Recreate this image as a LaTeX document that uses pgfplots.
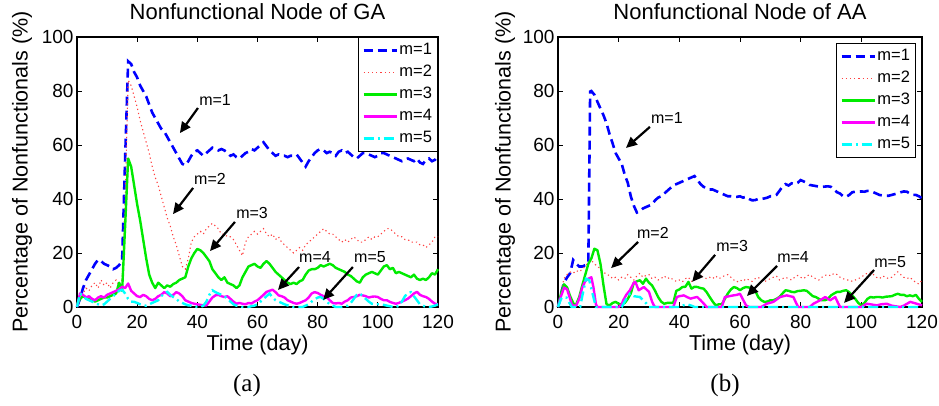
\documentclass[border=0pt]{standalone}
\usepackage{fontspec}
\setmainfont{Liberation Sans}
\newfontfamily\capfont{Liberation Serif}
\usepackage{pgfplots}
\pgfplotsset{compat=1.18}
\usetikzlibrary{arrows.meta}
\definecolor{mgreen}{rgb}{0,0.92,0}
\definecolor{mred}{rgb}{1,0.25,0.25}
\definecolor{mblue}{rgb}{0,0,1}
\definecolor{mmag}{rgb}{1,0,1}
\definecolor{mcyan}{rgb}{0,1,1}
\tikzset{
  arr/.style={black, line width=2.2pt, -{Triangle[length=11pt,width=10pt]}},
  ann/.style={font=\fontsize{16}{16}\selectfont, inner sep=0pt},
}
\pgfplotsset{
  myaxis/.style={
    scale only axis, width=#1, height=270pt,
    xmin=0, xmax=120, ymin=0, ymax=100,
    xtick={0,20,...,120}, ytick={0,20,...,100},
    tick align=inside, major tick length=5pt,
    every tick/.style={black, line width=0.9pt},
    axis line style={line width=1.1pt},
    /pgf/number format/assume math mode=true,
    tick label style={font=\fontsize{19}{19}\selectfont},
    xticklabel style={anchor=base, yshift=-22pt, inner sep=0pt},
    label style={font=\fontsize{21.5}{21.5}\selectfont},
    xlabel style={at={(axis description cs:0.5,0)}, anchor=base, yshift=-44pt, inner sep=0pt},
    title style={at={(axis description cs:0.5,1)}, anchor=base, yshift=11pt, font=\fontsize{22}{22}\selectfont},
    xlabel={Time (day)},
    ylabel={Percentage of Nonfunctionals (\%)},
    clip=false,
    legend cell align=left,
    legend image code/.code={\draw[##1] (0pt,0pt) -- (33pt,0pt);},
    legend style={font=\fontsize{16.5}{16.5}\selectfont, draw=black, line width=1pt,
      nodes={inner sep=1.5pt, text height=12pt, text depth=3pt}, row sep=4pt,
      inner xsep=4pt, inner ysep=4pt},
  },
  s1/.style={mblue, line width=2.6pt, dash pattern=on 9pt off 5pt},
  s2/.style={mred, line width=1.1pt, dash pattern=on 1.2pt off 3pt},
  s3/.style={mgreen, line width=2.4pt, line join=round},
  s4/.style={mmag, line width=2.4pt, line join=round},
  s5/.style={mcyan, line width=2.4pt, dash pattern=on 10pt off 4pt on 2pt off 4pt},
}
\begin{document}
\begin{tikzpicture}
\useasboundingbox (0,0) rectangle (939pt,406pt);
% ---------------- (a) GA ----------------
\begin{axis}[myaxis=361pt, at={(77pt,99pt)}, anchor=south west,
  title={Nonfunctional Node of GA},
  ylabel style={at={(axis description cs:-0.152,0.5)}, anchor=center},
  legend style={at={(axis description cs:1,1)}, anchor=north east}]
\addplot[s1] coordinates {(0,0) (1,3) (2,7) (3,10) (4,12) (5,14) (6,16) (7,17.5) (8,17) (9,16) (10,15.5) (11,15) (12,14) (13,14.5) (14,15.5) (15,17) (16,55) (17,91) (18,90) (19,87) (20,85) (21,82) (22,80) (23,78) (24,75) (25,72) (26,70) (27,68) (28,66) (29,65) (30,63) (31,61) (32,59) (33,57) (34,55) (35,53) (36,52.5) (37,54) (38,56) (39,57.5) (40,58) (41,57) (42,56) (43,57) (44,58) (45,59) (46,58.5) (47,58) (48,58.5) (49,58) (50,57) (51,56) (52,56.5) (53,55.5) (54,55) (55,56) (56,57) (57,57.5) (58,58.5) (59,58) (60,59) (61,60) (62,61) (63,59.5) (64,58) (65,57) (66,56) (67,56.5) (68,56) (69,56) (70,55.5) (71,56) (72,56) (73,56.5) (74,55) (75,53.5) (76,52) (77,54) (78,55.5) (79,57) (80,58) (81,58.5) (82,58) (83,57) (84,57.5) (85,57) (86,56) (87,57.5) (88,58) (89,57) (90,57.5) (91,56.5) (92,55.5) (93,55) (94,56) (95,57) (96,57) (97,56.5) (98,56) (99,55.5) (100,56) (101,57) (102,57) (103,56.5) (104,56) (105,55.5) (106,55) (107,54.5) (108,54) (109,54.5) (110,55) (111,54.5) (112,54) (113,55) (114,53.5) (115,53) (116,54.5) (117,55) (118,54) (119,54.5) (120,56)};
\addlegendentry{m=1}
\addplot[s2] coordinates {(0,0) (1,3) (2,5) (3,7) (4,6) (5,8) (6,9) (7,7) (8,10) (9,8) (10,9) (11,7) (12,9) (13,10) (14,8) (15,10) (16,40) (17,84) (18,82) (19,78) (20,74) (21,69) (22,65) (23,61) (24,57) (25,52) (26,48) (27,45) (28,41) (29,37) (30,33) (31,30) (32,26) (33,23) (34,19) (35,15) (36,14) (37,18) (38,24) (39,26) (40,27) (41,28) (42,27) (43,29) (44,30) (45,31) (46,30) (47,29) (48,27) (49,27) (50,26) (51,26) (52,25) (53,23) (54,21) (55,19) (56,24) (57,26) (58,27) (59,28) (60,27) (61,28) (62,29) (63,27) (64,26) (65,27) (66,25) (67,26) (68,24) (69,23) (70,22) (71,21) (72,20) (73,21) (74,22) (75,21) (76,23) (77,24) (78,25) (79,26) (80,27) (81,28) (82,29) (83,28) (84,27) (85,27) (86,26) (87,25) (88,24) (89,25) (90,24) (91,25) (92,26) (93,25) (94,24) (95,24) (96,25) (97,26) (98,25) (99,26) (100,26) (101,27) (102,28) (103,29) (104,29) (105,28) (106,27) (107,26) (108,26) (109,25) (110,25) (111,24) (112,24) (113,24) (114,23) (115,23) (116,22) (117,23) (118,24) (119,26) (120,26)};
\addlegendentry{m=2}
\addplot[s3] coordinates {(0,1) (1,3) (2,4) (3,3.5) (4,3) (5,2.5) (6,2) (7,2.5) (8,3) (9,3.5) (10,3.5) (11,4) (12,4.5) (13,5) (14,9) (15,6) (16,30) (17,55) (18,52) (19,45) (20,38) (21,32) (22,25) (23,18) (24,12) (25,9) (26,7) (27,9) (28,8) (29,7) (30,8) (31,7.5) (32,8.5) (33,9) (34,10) (35,10.5) (36,11) (37,15) (38,18) (39,20) (40,21.5) (41,21) (42,20) (43,18.5) (44,17) (45,14) (46,12.5) (47,11) (48,10) (49,11) (50,9) (51,8.5) (52,8) (53,7) (54,8) (55,11) (56,13) (57,15) (58,15.5) (59,16) (60,15) (61,14.5) (62,16) (63,17) (64,16) (65,14.5) (66,13) (67,12) (68,11) (69,10) (70,9) (71,8.5) (72,9) (73,8.5) (74,9.5) (75,10) (76,12) (77,13.5) (78,14) (79,14) (80,14.5) (81,15.5) (82,15) (83,15.5) (84,16) (85,15.5) (86,14.5) (87,14) (88,13.5) (89,13) (90,12) (91,11.5) (92,10.5) (93,9.5) (94,9) (95,11) (96,12) (97,12.5) (98,13) (99,12.5) (100,12) (101,13.5) (102,15) (103,15.5) (104,14) (105,14.5) (106,12.5) (107,13) (108,12.5) (109,12) (110,11.5) (111,11) (112,12) (113,10.5) (114,10) (115,10.5) (116,10) (117,11) (118,12.5) (119,12) (120,14)};
\addlegendentry{m=3}
\addplot[s4] coordinates {(0,0) (1,5) (2,4.5) (3,3.5) (4,4) (5,3) (6,2.5) (7,3.5) (8,4) (9,3.5) (10,4.5) (11,5) (12,5.5) (13,6) (14,6.5) (15,7.5) (16,7) (17,8.7) (18,6) (19,5) (20,4) (21,3.7) (22,4.5) (23,4) (24,3) (25,2.5) (26,3) (27,4) (28,4.5) (29,5.5) (30,5) (31,4) (32,4.5) (33,5.5) (34,5) (35,4) (36,2.5) (37,2) (38,1.5) (39,1.2) (40,1) (41,0.8) (42,0.6) (43,0.6) (44,2) (45,3.5) (46,4.3) (47,4.5) (48,4) (49,3.7) (50,4) (51,3) (52,2) (53,1.2) (54,1.5) (55,1.2) (56,1) (57,1.5) (58,1.3) (59,2) (60,2.5) (61,3.5) (62,4.5) (63,5.6) (64,6) (65,6.4) (66,5.5) (67,4.3) (68,4) (69,3.5) (70,2.5) (71,2) (72,1.5) (73,1.2) (74,1.5) (75,2) (76,2.5) (77,3.5) (78,5) (79,5.5) (80,5.2) (81,4.5) (82,4) (83,3.7) (84,2.5) (85,1.5) (86,1.3) (87,1.5) (88,1.2) (89,2) (90,2.5) (91,3.5) (92,3.7) (93,4) (94,4.5) (95,4.3) (96,4) (97,3.5) (98,3.8) (99,3.9) (100,3.7) (101,3) (102,2.5) (103,2.5) (104,1.9) (105,1.5) (106,1.2) (107,1.5) (108,2) (109,2.5) (110,3.1) (111,4) (112,5) (113,5.6) (114,4.5) (115,4) (116,3.7) (117,3) (118,2) (119,1.2) (120,1)};
\addlegendentry{m=4}
\addplot[s5] coordinates {(0,0) (1,5) (2,4) (3,3) (4,2.5) (5,2) (6,1.5) (7,1) (8,0.6) (9,1) (10,2) (11,3) (12,4) (13,5) (14,6) (15,6.4) (16,5) (17,3) (18,2) (19,1.9) (20,1.5) (21,1) (22,0.6) (23,0.5) (24,1) (25,1.5) (26,2) (27,2.5) (28,4) (29,5) (30,5.6) (31,4.5) (32,3.7) (33,3) (34,2) (35,1.5) (36,1) (37,0.6) (38,0.5) (39,0.3) (40,0) (41,0) (42,0.5) (43,2) (44,4.5) (45,6.2) (46,5.5) (47,5) (48,4.5) (49,4) (50,3) (51,2) (52,1) (53,0.5) (54,0.3) (55,0) (56,0) (57,0) (58,0.3) (59,0.5) (60,1) (61,2) (62,3) (63,4) (64,5) (65,3.5) (66,2.5) (67,2) (68,1.5) (69,1) (70,0.6) (71,0.3) (72,0) (73,0) (74,0) (75,0) (76,0.5) (77,1) (78,2) (79,2.8) (80,3.5) (81,3.7) (82,3) (83,2) (84,1) (85,0.5) (86,0) (87,0) (88,0) (89,0.3) (90,0.5) (91,1.5) (92,3) (93,4.5) (94,5) (95,4) (96,3) (97,2) (98,1.2) (99,1) (100,1) (101,1) (102,0.8) (103,0.5) (104,0.3) (105,0) (106,0) (107,0.5) (108,2) (109,4) (110,5.2) (111,5.5) (112,4) (113,2.5) (114,1) (115,0.5) (116,0) (117,0) (118,0.2) (119,0.5) (120,1)};
\addlegendentry{m=5}
\node[ann] at (axis cs:45.9,76.7) {m=1};
\draw[arr] (axis cs:40.2,73.7) -- (axis cs:34.2,64.4);
\node[ann] at (axis cs:44.2,47.4) {m=2};
\draw[arr] (axis cs:38.6,44.1) -- (axis cs:31.9,34.4);
\node[ann] at (axis cs:58.2,34.8) {m=3};
\draw[arr] (axis cs:52.5,31.5) -- (axis cs:44.2,20.7);
\node[ann] at (axis cs:79.1,18.5) {m=4};
\draw[arr] (axis cs:73.8,14.8) -- (axis cs:66.8,6.3);
\node[ann] at (axis cs:97.4,18.5) {m=5};
\draw[arr] (axis cs:91.7,14.8) -- (axis cs:81.8,2.6);
\end{axis}
% ---------------- (b) AA ----------------
\begin{axis}[myaxis=364pt, at={(558pt,99pt)}, anchor=south west,
  title={Nonfunctional Node of AA},
  ylabel style={at={(axis description cs:-0.1456,0.5)}, anchor=center},
  legend style={at={(axis description cs:1,1)}, anchor=north east, xshift=-6pt, yshift=-6pt}]
\addplot[s1] coordinates {(0,0) (1,5) (2,9) (3,11) (4,12.5) (5,17.4) (6,16) (7,15) (8,15) (9,15.5) (10,16.5) (10.6,79.8) (11,80) (12,78.6) (13,76) (14,73.5) (15,71) (16,68) (17,64) (18,60.6) (19,57) (20,55) (21,53) (22,49) (23,46) (24,41) (25,37.5) (26,35) (27,35.5) (28,36.5) (29,37) (30,37.5) (31,38) (32,39.5) (33,40.5) (34,41) (35,42) (36,43) (37,44) (38,45) (39,45.5) (40,46) (41,46.5) (42,47) (43,47.5) (44,48) (45,48.5) (46,47) (47,45.5) (48,44.5) (49,44) (50,43.5) (51,43.5) (52,43) (53,42.5) (54,42) (55,41.5) (56,41) (57,41) (58,40.8) (59,40.8) (60,41) (61,40.5) (62,40.8) (63,40) (64,39.5) (65,39.6) (66,40) (67,40) (68,40.2) (69,40.5) (70,41) (71,41) (72,41.5) (73,43) (74,44.6) (75,45.5) (76,45) (77,45.8) (78,45.5) (79,46) (80,47) (81,46.5) (82,46) (83,45.2) (84,45) (85,44.8) (86,44.6) (87,44.5) (88,44.6) (89,44.7) (90,44.5) (91,43.5) (92,42.5) (93,42) (94,41) (95,40.8) (96,41.5) (97,42.5) (98,42.7) (99,42.7) (100,42.8) (101,42.7) (102,43) (103,43) (104,42.5) (105,42) (106,41.5) (107,41.3) (108,41.2) (109,41.2) (110,41.5) (111,41.8) (112,42.1) (113,42.5) (114,42.8) (115,42.7) (116,42) (117,41.5) (118,41.5) (119,41) (120,40.2)};
\addlegendentry{m=1}
\addplot[s2] coordinates {(0,0) (1,6) (2,10.5) (3,12) (4,13) (5,12.5) (6,13.5) (7,13) (8,14) (9,15) (10,16.7) (11,17.3) (12,16) (13,15) (14,14.2) (15,13) (16,12) (17,11.7) (18,10.5) (19,11) (20,10) (21,11) (22,10.5) (23,12) (24,11) (25,10) (26,11.5) (27,12.5) (28,11) (29,11.7) (30,12) (31,10.5) (32,11) (33,10) (34,10.5) (35,11.5) (36,10.5) (37,11) (38,10) (39,9.5) (40,10) (41,9.3) (42,10.5) (43,11) (44,9.5) (45,10) (46,10.5) (47,11.7) (48,11) (49,10.5) (50,11) (51,10.5) (52,11.5) (53,10.5) (54,11) (55,11.7) (56,12) (57,11) (58,10) (59,9.3) (60,10) (61,9.5) (62,10.5) (63,10) (64,9.5) (65,10.5) (66,11) (67,10) (68,9.3) (69,10) (70,10.5) (71,11) (72,11.5) (73,10) (74,10.5) (75,11) (76,10.5) (77,10) (78,11) (79,11.7) (80,11) (81,10.5) (82,11.5) (83,12) (84,11) (85,10.5) (86,10) (87,11) (88,11.7) (89,12) (90,11.5) (91,12.5) (92,12) (93,11) (94,10.5) (95,10) (96,10) (97,9.5) (98,10) (99,10.5) (100,11) (101,12) (102,12.5) (103,12.9) (104,12) (105,11) (106,10.5) (107,11.5) (108,11) (109,10.5) (110,11) (111,12) (112,13) (113,12) (114,11) (115,10.5) (116,11) (117,10) (118,9) (119,8.5) (120,10)};
\addlegendentry{m=2}
\addplot[s3] coordinates {(0,0) (1,5) (2,8.4) (3,7.2) (4,4) (5,1.5) (5.6,0.6) (6,1) (7,3.7) (8,8) (9,12) (10,16) (11,18) (12,21.6) (13,21) (14,16) (15,8) (16,1) (17,0.6) (18,1.5) (19,1.9) (20,1.2) (21,1) (22,1.5) (23,3) (24,5) (25,9) (26,9.5) (27,9.9) (28,8.6) (29,10.5) (30,9) (31,8) (32,6) (33,3.7) (34,2) (35,1.2) (36,1.5) (37,1.5) (38,1.5) (39,6) (40,6.5) (41,7.4) (42,7.5) (43,9.3) (44,6.8) (45,7.5) (46,7.4) (47,7) (48,6.8) (49,5.5) (50,3.7) (51,2) (52,0.6) (53,1) (54,1) (55,3) (56,5) (57,6.5) (58,7.4) (59,7) (60,6.2) (61,7) (62,7.4) (63,7.2) (64,7) (65,6) (66,3.7) (67,2.5) (68,1.9) (69,2) (70,2.5) (71,2.5) (72,3) (73,3.7) (74,5) (75,6.2) (76,6) (77,5.6) (78,5.5) (79,5.9) (80,6) (81,6.2) (82,6) (83,5) (84,4) (85,3.7) (86,3) (87,2.5) (88,2.5) (89,3) (90,4.3) (91,5) (92,5.6) (93,5.6) (94,6) (95,6.2) (96,5.5) (97,4.3) (98,3) (99,1.5) (100,0.6) (101,1.5) (102,3) (103,3.7) (104,3.5) (105,3.7) (106,3.7) (107,3.5) (108,3.8) (109,3.9) (110,4) (111,4.5) (112,4.9) (113,4.5) (114,4.5) (115,4) (116,4.3) (117,4) (118,4.5) (119,3) (120,1.9)};
\addlegendentry{m=3}
\addplot[s4] coordinates {(0,0) (1,4) (2,7.2) (3,6.5) (4,3) (4.5,1) (5,0.5) (6,0.5) (7,3) (8,7.2) (9,9.6) (10,10.5) (11,11) (11.7,7.2) (12.5,1) (13,0) (20,0) (21,1) (21.5,2.5) (22.5,4.5) (23.7,6.2) (25,9) (25.5,9.3) (26.6,6.2) (28.3,7.4) (30,5.6) (31,2) (31.6,0.6) (32,0) (38,0) (39.2,3.7) (40,4) (41.5,4.3) (42.5,3.7) (43.7,3.1) (45,3.5) (45.9,3.7) (47,2.5) (48.1,1.2) (49,0) (54,0) (55,3.7) (56.5,4) (57.8,4.3) (59,4.5) (60,4.9) (61.1,2.5) (62,0.6) (63,0) (67,0) (68.8,1.2) (71,1.9) (73.2,3.7) (75.4,4.3) (77.6,3.7) (78.5,1.5) (79.2,0) (83,0) (84.2,1.2) (86.4,2.5) (88.1,3.7) (89.7,2.5) (91.4,3.7) (92.3,1.5) (93,0) (100,0) (101.8,1.2) (103,1) (105.1,0.6) (106.5,1) (108.4,1.2) (110,0.5) (112.8,0) (114,0.5) (116.1,1.9) (118.3,1.2) (120,0.6)};
\addlegendentry{m=4}
\addplot[s5] coordinates {(0,0) (1,3) (1.7,3.7) (2.8,3.5) (4,1) (4.5,0) (7.3,0) (8,4) (9.2,10.5) (10.3,9.9) (11.4,4.9) (12.5,0) (21,0) (22.5,3) (23.7,4.9) (25,4) (27,3.7) (28.5,2) (29.2,1.2) (30,0) (40,0) (41,0.5) (42.5,1) (44,0.5) (45,0) (120,0)};
\addlegendentry{m=5}
\node[ann] at (axis cs:35.9,70) {m=1};
\draw[arr] (axis cs:30.3,66.7) -- (axis cs:22.4,58.9);
\node[ann] at (axis cs:31.3,27.4) {m=2};
\draw[arr] (axis cs:26.4,24.1) -- (axis cs:17.5,14.4);
\node[ann] at (axis cs:57.4,22.6) {m=3};
\draw[arr] (axis cs:51.8,19.3) -- (axis cs:44.2,9.3);
\node[ann] at (axis cs:77.5,18.5) {m=4};
\draw[arr] (axis cs:72.2,15.2) -- (axis cs:62.3,4.1);
\node[ann] at (axis cs:109.5,16.7) {m=5};
\draw[arr] (axis cs:104.2,13.7) -- (axis cs:94.3,1.5);
\end{axis}
\node[font=\capfont\fontsize{25}{25}\selectfont] at (247pt,21pt) {(a)};
\node[font=\capfont\fontsize{25}{25}\selectfont] at (725pt,21pt) {(b)};
\end{tikzpicture}
\end{document}
